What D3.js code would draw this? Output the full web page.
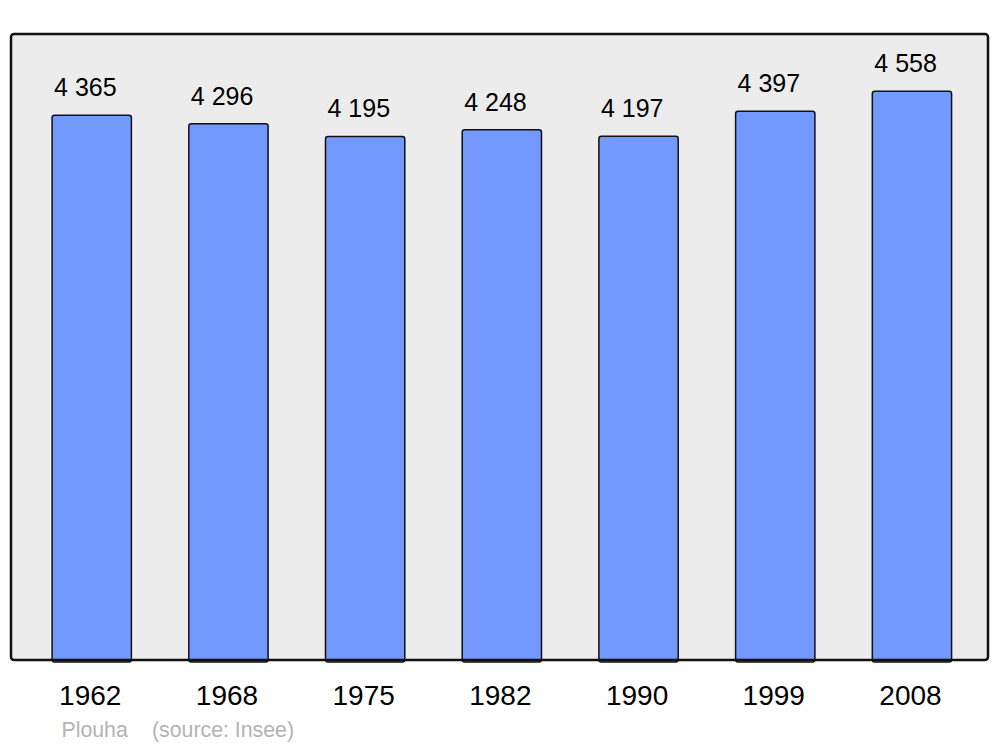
<!DOCTYPE html>
<html><head><meta charset="utf-8">
<script src="https://cdn.jsdelivr.net/npm/d3@7"></script>
<style>body{margin:0;background:#fff}svg{display:block}</style>
</head><body>
<script>
const years = ["1962","1968","1975","1982","1990","1999","2008"];
const population = [4365,4296,4195,4248,4197,4397,4558];
const valueLabels = ["4 365","4 296","4 195","4 248","4 197","4 397","4 558"];
const commune = "Plouha";
const source = "(source: Insee)";

const W = 1000, H = 747;
const svg = d3.select("body").append("svg").attr("width", W).attr("height", H);
const font = "Liberation Sans, Arial, sans-serif";

svg.append("rect").attr("x",11).attr("y",34).attr("width",977).attr("height",626)
  .attr("rx",3).attr("fill","#ececec");

const x = d3.scaleBand().domain(years).range([23.4, 980.3]).paddingInner(0.42).paddingOuter(0.21);
const y = d3.scaleLinear().domain([0, 5000]).range([660, 36]);

const g = svg.append("g");
g.selectAll("rect.bar").data(years).join("rect").attr("class","bar")
  .attr("x", d => x(d)).attr("width", x.bandwidth())
  .attr("y", (d,i) => y(population[i])).attr("height", (d,i) => y(0) - y(population[i]) + 2)
  .attr("rx", 2.5)
  .attr("fill","#7399ff").attr("stroke","#111").attr("stroke-width",1.5);

// panel outline on top of bars
svg.append("rect").attr("x",11).attr("y",34).attr("width",977).attr("height",626)
  .attr("rx",3).attr("fill","none").attr("stroke","#111").attr("stroke-width",2.5);

g.selectAll("text.val").data(years).join("text").attr("class","val")
  .attr("x", d => x(d) + 2).attr("y", (d,i) => y(population[i]) - 19)
  .attr("font-family", font).attr("font-size", 25).attr("fill","#000")
  .text((d,i) => valueLabels[i]);

const xAxis = d3.axisBottom(x).tickSize(0).tickPadding(0);
const ax = svg.append("g").attr("transform","translate(0,660)").call(xAxis);
ax.select(".domain").remove();
ax.selectAll("text").attr("font-family", font).attr("font-size", 28).attr("fill","#000")
  .attr("dy", null).attr("y", 45).attr("dx", -1.5);

svg.append("text").attr("x",61.5).attr("y",737).attr("font-family",font).attr("font-size",21.3)
  .attr("fill","#b3b3b3").text(commune);
svg.append("text").attr("x",152).attr("y",737).attr("font-family",font).attr("font-size",21.3)
  .attr("fill","#b3b3b3").text(source);
</script>
</body></html>
